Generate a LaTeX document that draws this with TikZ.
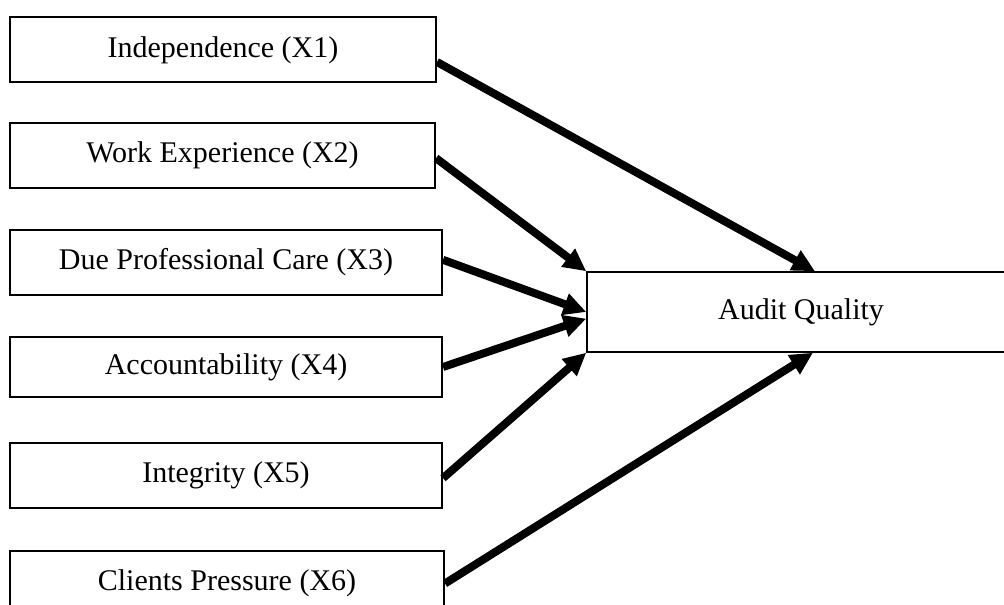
\documentclass[tikz,border=0pt]{standalone}
\usepackage{fontspec}
\setmainfont{Liberation Serif}
\usetikzlibrary{arrows.meta}

\tikzset{
    factor/.style = {rectangle, draw, line width = 1.5pt,
                     minimum height = 48.75pt, inner sep = 0pt,
                     font = \fontsize{22.5}{27}\selectfont},
    outcome/.style = {rectangle, draw, line width = 1.1pt,
                      minimum width = 321pt, minimum height = 60pt,
                      inner sep = 0pt,
                      font = \fontsize{22.5}{27}\selectfont},
    link/.style = {line width = 6pt}
}

\begin{document}
\begin{tikzpicture}[x=0.75pt, y=-0.75pt,
                    >={Triangle[length=17pt, width=16pt]}]

    \useasboundingbox (0,0) rectangle (1004,605);

    \node[factor,
          minimum width = 319.5pt
          ] (indep) at (223,50) {Independence (X1)};

    \node[factor,
          minimum width = 318.75pt
          ] (workexp) at (222.5,155.5) {Work Experience (X2)};

    \node[factor,
          minimum width = 324pt
          ] (duecare) at (226,262.5) {Due Professional Care (X3)};

    \node[factor,
          minimum width = 324pt,
          minimum height = 45pt
          ] (account) at (226,367) {Accountability (X4)};

    \node[factor,
          minimum width = 324pt
          ] (integ) at (226,475.5) {Integrity (X5)};

    \node[factor,
          minimum width = 325.5pt
          ] (pressure) at (227,583.5) {Clients Pressure (X6)};

    \node[outcome] (quality) at (801,312) {Audit Quality};


    \path[->, link]
    %factors to audit quality
    ([yshift=-9pt]indep.east) edge [] ([xshift=10.5pt]quality.north)
    ([yshift=-2pt]workexp.east) edge [] (quality.north west)
    ([yshift=2pt]duecare.east) edge [] (quality.west)
    (account.east) edge [] ([yshift=-5pt]quality.west)
    ([yshift=-2pt]integ.east) edge [] (quality.south west)
    (pressure.east) edge [] ([xshift=9pt]quality.south) ;


\end{tikzpicture}
\end{document}
